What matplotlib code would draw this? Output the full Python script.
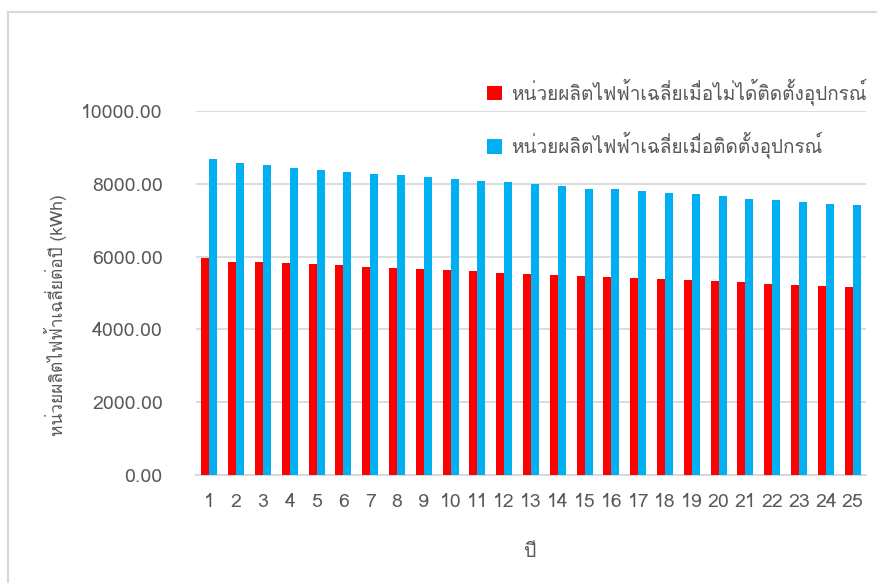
import matplotlib
matplotlib.use("Agg")
import matplotlib.pyplot as plt
from matplotlib import font_manager
from matplotlib.ft2font import FT2Font
from matplotlib.lines import Line2D

# ค่าหน่วยผลิตไฟฟ้าเฉลี่ยรายปี (kWh)
years = list(range(1, 26))
without_device = [5955, 5865, 5845, 5820, 5795, 5765, 5710, 5685, 5655, 5630,
                  5595, 5555, 5525, 5500, 5470, 5445, 5415, 5390, 5360, 5335,
                  5305, 5250, 5225, 5195, 5170]
with_device = [8670, 8560, 8505, 8440, 8385, 8330, 8275, 8250, 8195, 8140,
               8075, 8045, 7990, 7935, 7870, 7845, 7790, 7735, 7710, 7655,
               7590, 7565, 7510, 7455, 7425]
label_without = "หน่วยผลิตไฟฟ้าเฉลี่ยเมื่อไม่ได้ติดตั้งอุปกรณ์"
label_with = "หน่วยผลิตไฟฟ้าเฉลี่ยเมื่อติดตั้งอุปกรณ์"
ylabel = "หน่วยผลิตไฟฟ้าเฉลี่ยต่อปี (kWh)"
xlabel = "ปี"


# หาฟอนต์ที่มีอักษรไทย
def find_thai_font():
    for f in font_manager.fontManager.ttflist:
        try:
            cmap = FT2Font(f.fname).get_charmap()
        except Exception:
            continue
        if ord("ห") in cmap and ord("ฟ") in cmap:
            return f.name
    return None


thai = find_thai_font()
families = ([thai] if thai else []) + ["DejaVu Sans"]
plt.rcParams["font.family"] = families

txt = "#595959"
grid = "#D9D9D9"
red = "#FF0000"
blue = "#00B0F0"

fig = plt.figure(figsize=(8.78, 5.83), dpi=100)
ax = fig.add_axes([196 / 878, 1 - 475 / 583, 670 / 878, 364 / 583])

w = 0.3
x = [y for y in years]
ax.bar([v - w for v in x], without_device, width=w, align="edge", color=red,
       label=label_without, zorder=3)
ax.bar(x, with_device, width=w, align="edge", color=blue,
       label=label_with, zorder=3)

ax.set_xlim(0.5, 25.5)
ax.set_ylim(0, 10000)
ax.set_yticks([0, 2000, 4000, 6000, 8000, 10000])
ax.set_yticklabels([f"{v:.2f}" for v in [0, 2000, 4000, 6000, 8000, 10000]])
ax.set_xticks(x)
ax.set_xticklabels([str(v) for v in years])
ax.yaxis.grid(True, color=grid, linewidth=1.3, zorder=0)
ax.set_axisbelow(True)
for s in ["top", "right", "left"]:
    ax.spines[s].set_visible(False)
ax.spines["bottom"].set_color(grid)
ax.spines["bottom"].set_linewidth(1.5)
ax.tick_params(axis="both", length=0, labelsize=14, labelcolor=txt)
ax.tick_params(axis="x", pad=13)
ax.tick_params(axis="y", pad=24)

fig.text(55 / 878, 1 - 315 / 583, ylabel, rotation=90, ha="center",
         va="center", fontsize=12.5, color=txt)
fig.text(530 / 878, 1 - 552 / 583, xlabel, ha="center", va="center",
         fontsize=14, color=txt)

leg = ax.legend(loc="upper left", bbox_to_anchor=(477 / 878, 1 - 69 / 583),
                bbox_transform=fig.transFigure, frameon=False, fontsize=13.7,
                handlelength=0.8, handleheight=0.8, handletextpad=0.5,
                labelspacing=1.4, borderpad=0)
for t in leg.get_texts():
    t.set_color(txt)

# กรอบด้านบนและด้านซ้าย
fig.add_artist(Line2D([8 / 878, 1], [1 - 12 / 583] * 2, color=grid,
                      linewidth=1.5, transform=fig.transFigure))
fig.add_artist(Line2D([8 / 878] * 2, [0, 1 - 12 / 583], color=grid,
                      linewidth=1.5, transform=fig.transFigure))

fig.savefig("out.png", dpi=100)
